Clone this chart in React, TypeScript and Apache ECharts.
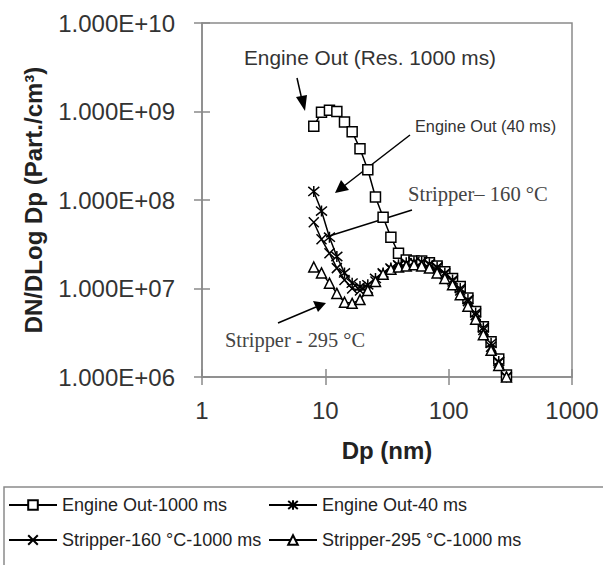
import React, { useEffect, useRef } from "react";
import * as echarts from "echarts";

// Particle diameters (nm), EEPS channels
const dp = [8.06, 9.31, 10.8, 12.4, 14.3, 16.5, 19.1, 22.1, 25.5, 29.4, 34.0, 39.2, 45.3, 52.3, 60.4, 69.8, 80.6, 93.1, 107.5, 124.1, 143.3, 165.5, 191.1, 220.7, 254.8, 294.3];

const engineOut1000 = [6.8e8, 9.8e8, 1.03e9, 1.0e9, 7.6e8, 5.9e8, 3.8e8, 2.2e8, 1.08e8, 6.4e7, 3.8e7, 2.5e7, 2.1e7, 2.05e7, 2.05e7, 1.95e7, 1.8e7, 1.55e7, 1.3e7, 1.05e7, 7.8e6, 5.5e6, 3.7e6, 2.5e6, 1.6e6, 1.05e6];
const engineOut40 = [1.25e8, 7.5e7, 3.8e7, 2.3e7, 1.5e7, 1.15e7, 1.05e7, 1.1e7, 1.3e7, 1.5e7, 1.7e7, 1.85e7, 1.95e7, 2.0e7, 2.0e7, 1.9e7, 1.75e7, 1.5e7, 1.25e7, 1.0e7, 7.5e6, 5.3e6, 3.6e6, 2.4e6, 1.5e6, 1.0e6];
const stripper160 = [5.6e7, 3.6e7, 2.5e7, 1.7e7, 1.25e7, 1.0e7, 9.5e6, 1.0e7, 1.2e7, 1.45e7, 1.65e7, 1.8e7, 1.9e7, 1.95e7, 1.95e7, 1.85e7, 1.7e7, 1.45e7, 1.2e7, 9.5e6, 7.2e6, 5.0e6, 3.4e6, 2.2e6, 1.45e6, 1.0e6];
const stripper295 = [1.75e7, 1.5e7, 1.15e7, 8.8e6, 7.0e6, 6.8e6, 7.5e6, 9.5e6, 1.2e7, 1.45e7, 1.65e7, 1.75e7, 1.8e7, 1.85e7, 1.8e7, 1.7e7, 1.5e7, 1.3e7, 1.1e7, 8.5e6, 6.3e6, 4.5e6, 3.0e6, 2.0e6, 1.35e6, 1.0e6];

const seriesNames = ["Engine Out-1000 ms", "Engine Out-40 ms", "Stripper-160 °C-1000 ms", "Stripper-295 °C-1000 ms"];
const yTicks = [1e6, 1e7, 1e8, 1e9, 1e10];
const xTicks = [1, 10, 100, 1000];

const STAR = "path://M0 0L10 10M10 0L0 10M5 -1L5 11";
const CROSS = "path://M0 0L10 10M10 0L0 10";

function pairs(vals: number[]) {
  return dp.map((d, i) => [d, vals[i]]);
}

export default function App() {
  const ref = useRef<HTMLDivElement>(null);
  useEffect(() => {
    document.body.style.margin = "0";
    if (!ref.current) return;
    const chart = echarts.init(ref.current, undefined, { renderer: "svg" });
    const axisGrey = "#8a8a8a";
    const labelFont = { fontFamily: "Liberation Sans, Arial, sans-serif", fontSize: 24, color: "#333" };
    const mkSeries = (name: string, vals: number[], symbol: string, size: number, fill: string) => ({
      name,
      type: "line",
      data: pairs(vals),
      symbol,
      symbolSize: size,
      lineStyle: { color: "#000", width: 1.5 },
      itemStyle: { color: fill, borderColor: "#000", borderWidth: 1.5 },
      xAxisIndex: 0,
      yAxisIndex: 0,
    });
    const legendText = { fontFamily: "Liberation Sans, Arial, sans-serif", fontSize: 18, color: "#222" };
    chart.setOption({
      animation: false,
      backgroundColor: "#fff",
      grid: { left: 202, right: 31, top: 23, bottom: 188, show: true, borderColor: axisGrey, borderWidth: 1.5 },
      xAxis: [
        {
          type: "log", logBase: 10, min: 1, max: 1000,
          axisLine: { lineStyle: { color: axisGrey, width: 1.5 } },
          axisTick: { length: 8, lineStyle: { color: axisGrey, width: 1.5 } },
          axisLabel: {
            ...labelFont, margin: 21,
            formatter: (v: number) => {
              const r = Math.round(v);
              return xTicks.includes(r) ? String(r) : "";
            },
          },
          splitLine: { show: false },
          minorTick: { show: false },
          name: "Dp (nm)", nameLocation: "middle", nameGap: 61,
          nameTextStyle: { fontFamily: "Liberation Sans, Arial, sans-serif", fontSize: 24, fontWeight: "bold", color: "#222" },
        },
        {
          type: "log", logBase: 10, min: 1, max: 1000, position: "bottom",
          axisLine: { show: false },
          axisTick: { inside: true, length: 8, lineStyle: { color: axisGrey, width: 1.5 } },
          axisLabel: { show: false },
          splitLine: { show: false },
        },
      ],
      yAxis: [
        {
          type: "log", logBase: 10, min: 1e6, max: 1e10,
          axisLine: { show: true, lineStyle: { color: axisGrey, width: 1.5 } },
          axisTick: { show: true, length: 8, lineStyle: { color: axisGrey, width: 1.5 } },
          axisLabel: {
            ...labelFont, margin: 27,
            formatter: (v: number) => {
              const e = Math.round(Math.log10(v));
              return yTicks.some((t) => Math.abs(Math.log10(t) - e) < 1e-6) ? "1.000E+" + String(e).padStart(2, "0") : "";
            },
          },
          splitLine: { show: false },
          name: "DN/DLog Dp (Part./cm³)", nameLocation: "middle", nameGap: 157,
          nameTextStyle: { fontFamily: "Liberation Sans, Arial, sans-serif", fontSize: 24, fontWeight: "bold", color: "#222" },
        },
        {
          type: "log", logBase: 10, min: 1e6, max: 1e10, position: "left",
          axisLine: { show: false },
          axisTick: { show: true, inside: true, length: 8, lineStyle: { color: axisGrey, width: 1.5 } },
          axisLabel: { show: false },
          splitLine: { show: false },
        },
      ],
      legend: [
        {
          data: [seriesNames[0], seriesNames[2]], orient: "vertical", left: 8, top: 496,
          itemWidth: 48, itemHeight: 12, itemGap: 17, textStyle: legendText, padding: 0,
        },
        {
          data: [seriesNames[1], seriesNames[3]], orient: "vertical", left: 268, top: 496,
          itemWidth: 48, itemHeight: 12, itemGap: 17, textStyle: legendText, padding: 0,
        },
      ],
      series: [
        mkSeries(seriesNames[0], engineOut1000, "rect", 10, "#fff"),
        mkSeries(seriesNames[1], engineOut40, STAR, 11, "#000"),
        mkSeries(seriesNames[2], stripper160, CROSS, 10, "#000"),
        mkSeries(seriesNames[3], stripper295, "triangle", 10, "#fff"),
      ],
      graphic: [
        { type: "rect", shape: { x: 4, y: 487, width: 620, height: 100 }, style: { fill: "none", stroke: axisGrey, lineWidth: 1.5 }, silent: true },
        { type: "text", x: 244, y: 57, style: { text: "Engine Out (Res. 1000 ms)", font: "20.8px Liberation Sans, Arial, sans-serif", fill: "#333", verticalAlign: "middle" } },
        { type: "line", shape: { x1: 297, y1: 78, x2: 302, y2: 100 }, style: { stroke: "#000", lineWidth: 1.5 } },
        { type: "polygon", shape: { points: [[305, 111], [296, 97], [307, 95]] }, style: { fill: "#000" } },
        { type: "text", x: 415, y: 126, style: { text: "Engine Out (40 ms)", font: "16.3px Liberation Sans, Arial, sans-serif", fill: "#333", verticalAlign: "middle" } },
        { type: "line", shape: { x1: 410, y1: 135, x2: 344, y2: 186 }, style: { stroke: "#000", lineWidth: 1.5 } },
        { type: "polygon", shape: { points: [[335, 193], [341, 180], [349, 190]] }, style: { fill: "#000" } },
        { type: "text", x: 408, y: 194, style: { text: "Stripper– 160 °C", font: "20.6px Liberation Serif, Times New Roman, serif", fill: "#444", verticalAlign: "middle" } },
        { type: "line", shape: { x1: 412, y1: 210, x2: 326, y2: 237 }, style: { stroke: "#000", lineWidth: 1.5 } },
        { type: "text", x: 225, y: 340, style: { text: "Stripper - 295 °C", font: "20.4px Liberation Serif, Times New Roman, serif", fill: "#444", verticalAlign: "middle" } },
        { type: "line", shape: { x1: 278, y1: 323, x2: 316, y2: 307 }, style: { stroke: "#000", lineWidth: 1.5 } },
        { type: "polygon", shape: { points: [[326, 303], [313, 301], [318, 312]] }, style: { fill: "#000" } },
      ],
    });
    return () => chart.dispose();
  }, []);
  return <div ref={ref} style={{ width: 603, height: 565 }} />;
}
